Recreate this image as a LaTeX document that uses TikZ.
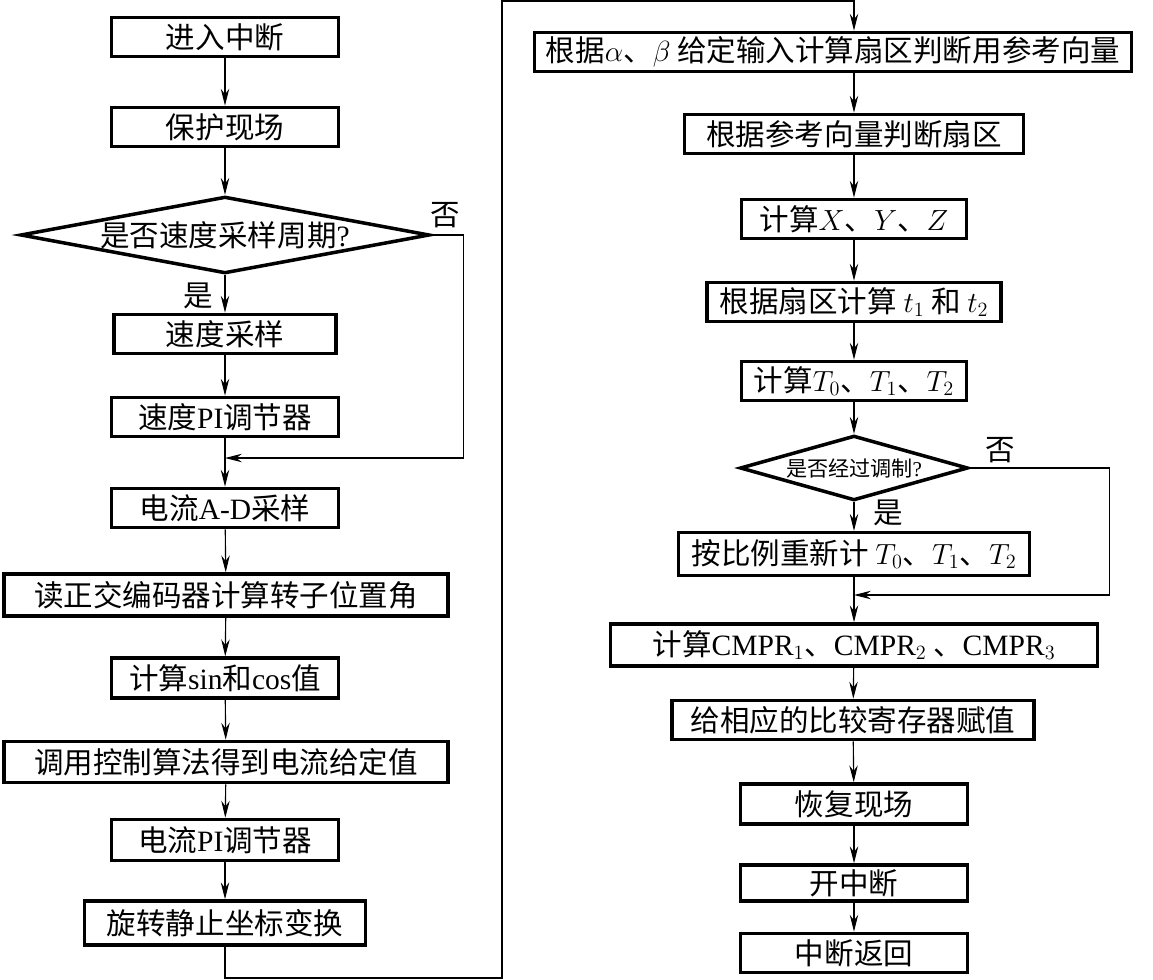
\documentclass[tikz,border=0pt]{standalone}
\usepackage{fontspec}
\setmainfont{Noto Sans CJK SC}
\newfontfamily\tnr{Liberation Serif}
\usetikzlibrary{positioning, shapes.geometric, arrows.meta}

\begin{document}
\begin{tikzpicture}[x=0.025cm, y=-0.025cm, >={Stealth[length=12pt, width=6pt, inset=4pt]},
                    font=\fontsize{21}{25}\selectfont,
                    box/.style={rectangle, draw, line width=2.5pt, inner sep=0pt, minimum height=0.98cm, minimum width=#1},
                    box/.default=5.675cm,
                    decision/.style={diamond, draw, line width=2.5pt, inner sep=0pt},
                    flow/.style={->, line width=0.8pt}]

  \useasboundingbox (0,0) rectangle (1153,980);

  %Left column.
  \node[box]                          (intr)   at (225,37)  {进入中断};
  \node[box]                          (save)   at (225,127) {保护现场};
  \node[decision, minimum width=10.225cm, minimum height=1.92cm, aspect=5.3]
                                      (spdq)   at (225,235) {是否速度采样周期{\tnr ?}};
  \node[box=5.55cm]                   (spds)   at (225,334) {速度采样};
  \node[box]                          (spdpi)  at (225,417) {速度{\tnr PI}调节器};
  \node[box]                          (adc)    at (225,508) {电流{\tnr A-D}采样};
  \node[box=11.1cm, minimum height=1.05cm] (enc)    at (226,595) {读正交编码器计算转子位置角};
  \node[box, minimum height=1cm]      (sincos) at (225,678) {计算{\tnr sin}和{\tnr cos}值};
  \node[box=11.1cm, minimum height=1.03cm] (ctrl)   at (226,762) {调用控制算法得到电流给定值};
  \node[box, minimum height=1.03cm]   (curpi)  at (225,840) {电流{\tnr PI}调节器};
  \node[box=7.025cm, minimum height=1.1cm] (trans)  at (225,923) {旋转静止坐标变换};

  \node (no1)  at (445,215) {否};
  \node (yes1) at (198,296) {是};

  %Right column.
  \node[box=14.925cm]                 (ref)     at (833,52)  {根据$\alpha$、$\beta$ 给定输入计算扇区判断用参考向量};
  \node[box=8.475cm]                  (sect)    at (854,134) {根据参考向量判断扇区};
  \node[box=5.625cm]                  (xyz)     at (854,219) {计算$X$、$Y$、$Z$};
  \node[box=7.35cm]                   (tt)      at (854,302) {根据扇区计算 $t_1$ 和 $t_2$};
  \node[box=5.625cm]                  (T)       at (854,381) {计算$T_0$、$T_1$、$T_2$};
  \node[decision, minimum width=5.7cm, minimum height=1.62cm, aspect=3.5, font=\fontsize{15}{18}\selectfont]
                                      (modq)    at (854,468) {是否经过调制{\tnr ?}};
  \node[box=8.775cm, minimum height=1.07cm] (rescale) at (854,554) {按比例重新计 $T_0$、$T_1$、$T_2$};
  \node[box=12.175cm, minimum height=1.05cm] (cmpr)   at (854,645) {计算{\tnr CMPR$_1$}、{\tnr CMPR$_2$} 、{\tnr CMPR$_3$}};
  \node[box=9.05cm]                   (reg)     at (853,720) {给相应的比较寄存器赋值};
  \node[box, minimum height=1cm]      (rest)    at (854,804) {恢复现场};
  \node[box, minimum height=0.9cm]    (en)      at (854,883) {开中断};
  \node[box]                          (ret)     at (854,953) {中断返回};

  \node (no2)  at (1000,450) {否};
  \node (yes2) at (888,513)  {是};

  \coordinate (join1) at (225,458);
  \coordinate (join2) at (854,595);
  \coordinate (bot)   at (502,978);
  \coordinate (top)   at (502,1);

  \foreach \a/\b in {intr/save, save/spdq, spdq/spds, spds/spdpi, spdpi/adc, adc/enc, enc/sincos, sincos/ctrl, ctrl/curpi, curpi/trans}
    \draw[flow] (\a) -- (\b);
  \draw[flow] (spdq.east) -- ++(32,0) |- (join1);

  %Jump to the right column.
  \draw[flow] (trans.south) |- (bot) -- (top) -| (ref.north -| sect.north);

  \draw[flow] (ref.south -| sect.north) -- (sect);
  \foreach \a/\b in {sect/xyz, xyz/tt, tt/T, T/modq, modq/rescale, rescale/cmpr, cmpr/reg, reg/rest, rest/en, en/ret}
    \draw[flow] (\a) -- (\b);
  \draw[flow] (modq.east) -- ++(140,0) |- (join2);

\end{tikzpicture}
\end{document}
